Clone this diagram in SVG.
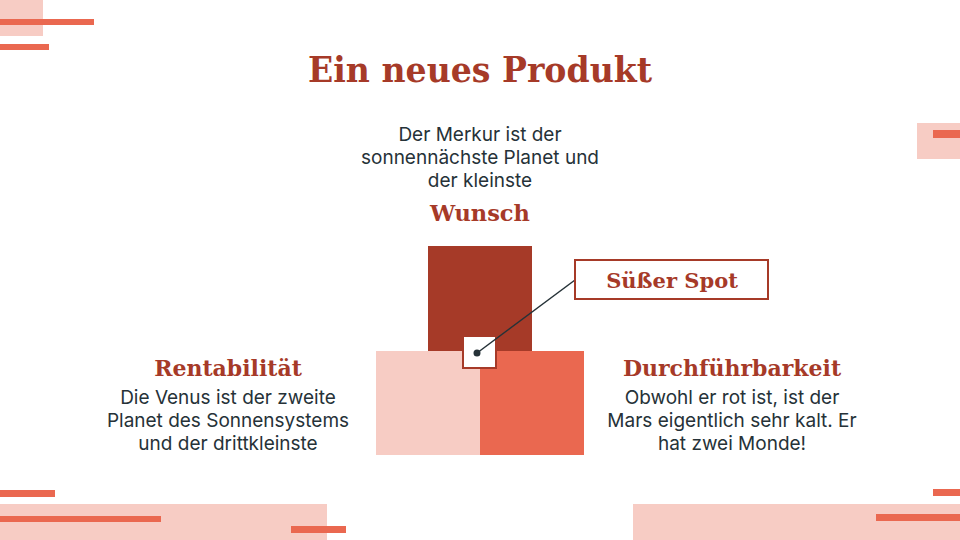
<svg xmlns="http://www.w3.org/2000/svg" width="960" height="540" viewBox="0 0 960 540">
<style>
.pink{fill:#F7CCC4}
.orange{fill:#EA6850}
.dark{fill:#A63A28}
.title{font-family:"DejaVu Serif","Liberation Serif",serif;font-weight:bold;fill:#A63A28;text-anchor:middle}
.body{font-family:Inter,"Liberation Sans",sans-serif;font-size:19px;fill:#263238;text-anchor:middle}
</style>
<rect width="960" height="540" fill="#ffffff"/>
<g id="decor">
<rect class="pink" x="0" y="0" width="43" height="36"/>
<rect class="orange" x="0" y="19" width="94" height="6"/>
<rect class="orange" x="0" y="44" width="49" height="6"/>
<rect class="pink" x="917" y="123" width="43" height="36"/>
<rect class="orange" x="933" y="130" width="27" height="8"/>
<rect class="orange" x="0" y="490" width="55" height="7"/>
<rect class="pink" x="0" y="504" width="327" height="36"/>
<rect class="orange" x="0" y="516" width="161" height="6"/>
<rect class="orange" x="291" y="526" width="55" height="7"/>
<rect class="orange" x="933" y="489" width="27" height="7"/>
<rect class="pink" x="633" y="504" width="327" height="36"/>
<rect class="orange" x="876" y="514" width="84" height="7"/>
</g>
<text class="title" x="480" y="82" font-size="36" textLength="344" lengthAdjust="spacingAndGlyphs">Ein neues Produkt</text>
<g id="wunsch">
<rect class="dark" x="428" y="246" width="104" height="105"/>
<text class="body" x="480" y="141">Der Merkur ist der</text>
<text class="body" x="480" y="164">sonnennächste Planet und</text>
<text class="body" x="480" y="187">der kleinste</text>
<text class="title" x="480" y="221" font-size="22.5">Wunsch</text>
</g>
<g id="rentabilitaet">
<rect class="pink" x="376" y="351" width="104" height="104"/>
<text class="title" x="228" y="376" font-size="22">Rentabilität</text>
<text class="body" x="228" y="404">Die Venus ist der zweite</text>
<text class="body" x="228" y="427">Planet des Sonnensystems</text>
<text class="body" x="228" y="450">und der drittkleinste</text>
</g>
<g id="durchfuehrbarkeit">
<rect class="orange" x="480" y="351" width="104" height="104"/>
<text class="title" x="732" y="376" font-size="22">Durchführbarkeit</text>
<text class="body" x="732" y="404">Obwohl er rot ist, ist der</text>
<text class="body" x="732" y="427">Mars eigentlich sehr kalt. Er</text>
<text class="body" x="732" y="450">hat zwei Monde!</text>
</g>
<g id="spot-center">
<rect x="463" y="336" width="33" height="32" fill="#ffffff" stroke="#A63A28" stroke-width="2"/>
</g>
<g id="connectors">
<line x1="477" y1="353" x2="575" y2="280" stroke="#263238" stroke-width="1.5"/>
<circle cx="477" cy="353" r="3.5" fill="#263238"/>
</g>
<g id="suesser-spot">
<rect x="575" y="260" width="193" height="39" fill="#ffffff" stroke="#A63A28" stroke-width="2"/>
<text class="title" x="672" y="288" font-size="21">Süßer Spot</text>
</g>
</svg>
